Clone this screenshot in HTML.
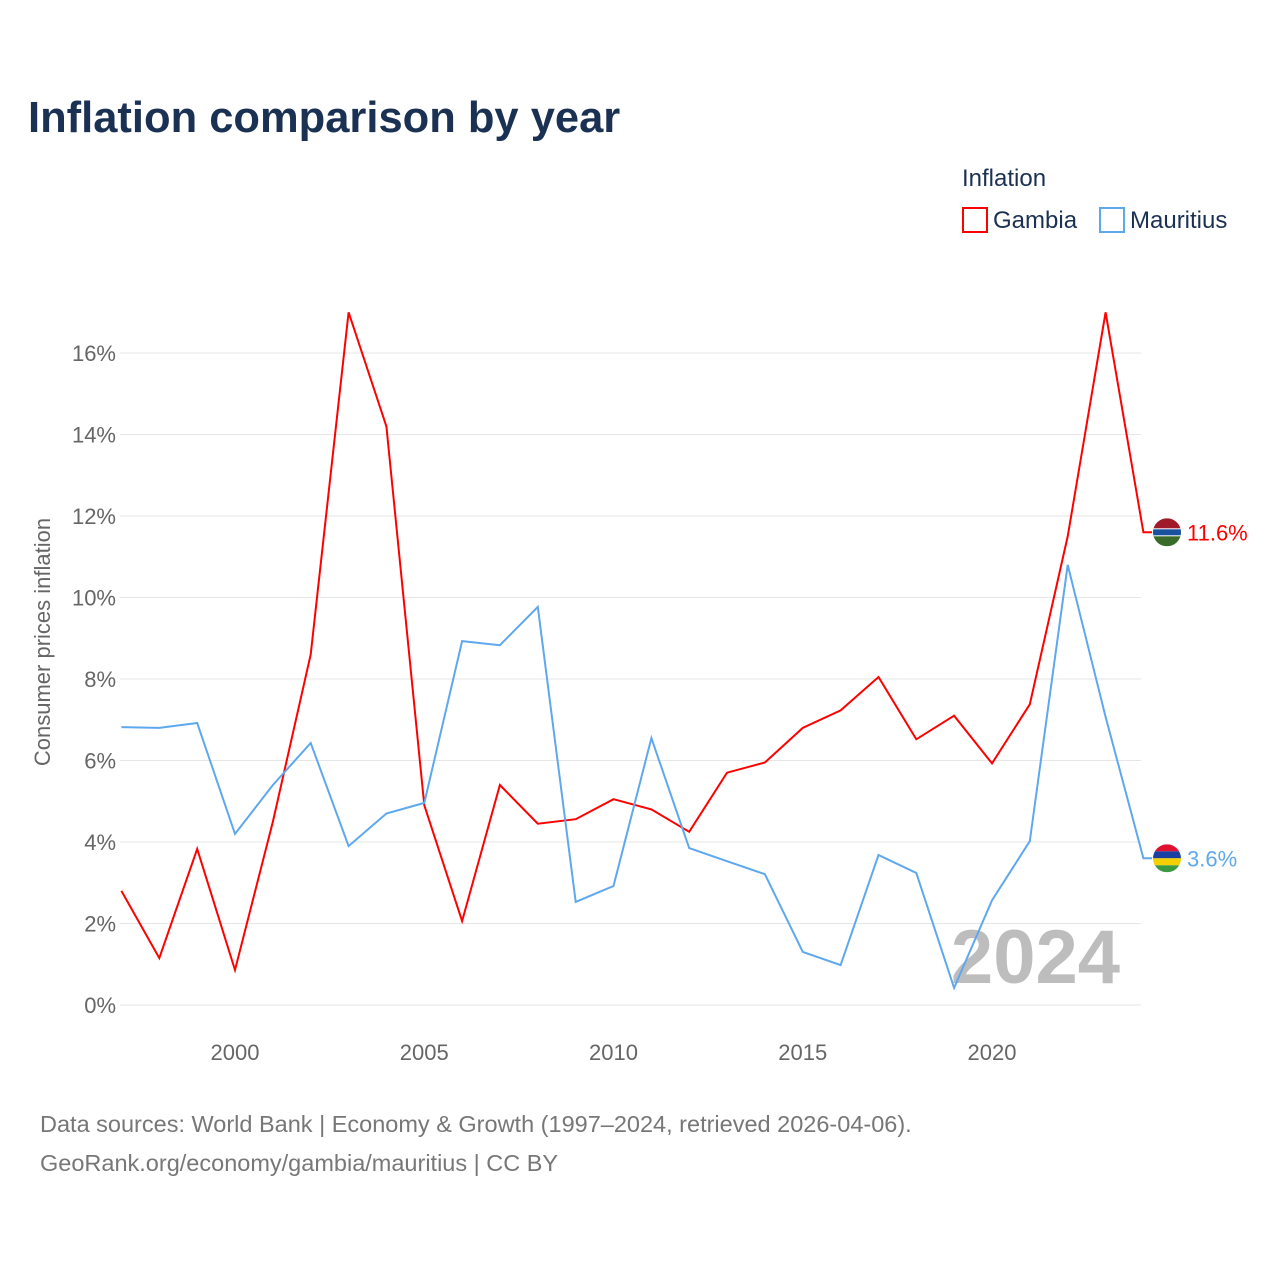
<!DOCTYPE html>
<html><head><meta charset="utf-8"><style>
body{margin:0;background:#fff;font-family:"Liberation Sans",sans-serif}
svg text{font-family:"Liberation Sans",sans-serif}
</style></head><body>
<svg width="1280" height="1280">
<defs>
<clipPath id="cg"><circle cx="1167" cy="0" r="14"/></clipPath>
</defs>
<text x="28" y="132" font-size="43.5" font-weight="bold" fill="#1b3153">Inflation comparison by year</text>
<text x="962" y="186" font-size="24" fill="#1b3153">Inflation</text>
<g><rect x="963" y="208" width="24" height="24" fill="none" stroke="#ff0000" stroke-width="2"/><text x="993" y="228" font-size="24" fill="#1b3153">Gambia</text></g>
<g><rect x="1100" y="208" width="24" height="24" fill="none" stroke="#5ea8ee" stroke-width="2"/><text x="1130" y="228" font-size="24" fill="#1b3153">Mauritius</text></g>
<text transform="translate(50,642) rotate(-90)" text-anchor="middle" font-size="22" fill="#666">Consumer prices inflation</text>
<g id="grid"></g><g id="yt"></g><g id="xt"></g>
<text x="1120" y="983" text-anchor="end" font-size="76" font-weight="bold" fill="#bdbdbd">2024</text>
<g id="lines"></g><g id="ends"></g>
<text x="40" y="1132" font-size="23.5" fill="#777">Data sources: World Bank | Economy &amp; Growth (1997–2024, retrieved 2026-04-06).</text>
<text x="40" y="1171" font-size="23.5" fill="#777">GeoRank.org/economy/gambia/mauritius | CC BY</text>
</svg>
<script>
const years=[1997,1998,1999,2000,2001,2002,2003,2004,2005,2006,2007,2008,2009,2010,2011,2012,2013,2014,2015,2016,2017,2018,2019,2020,2021,2022,2023,2024];
const gambia=[2.8,1.15,3.83,0.86,4.5,8.6,17.0,14.2,4.9,2.06,5.4,4.45,4.56,5.05,4.8,4.25,5.7,5.95,6.8,7.23,8.05,6.52,7.1,5.93,7.38,11.5,17.0,11.6];
const mauritius=[6.82,6.8,6.92,4.2,5.4,6.43,3.9,4.7,4.96,8.93,8.83,9.77,2.53,2.92,6.55,3.85,3.53,3.21,1.3,0.98,3.68,3.24,0.42,2.57,4.02,10.8,7.07,3.6];
const yTicks=[0,2,4,6,8,10,12,14,16];
const xTicks=[2000,2005,2010,2015,2020];
const NS="http://www.w3.org/2000/svg";
const X=y=>235+(y-2000)*37.85, Y=v=>1005-v*40.75;
function mk(t,a,p){const e=document.createElementNS(NS,t);for(const k in a)e.setAttribute(k,a[k]);p.appendChild(e);return e;}
const g=document.getElementById('grid'),yt=document.getElementById('yt'),xt=document.getElementById('xt');
yTicks.forEach(v=>{const l=mk('line',{x1:120,x2:1141,y1:Y(v),y2:Y(v),stroke:'#e6e6e6','stroke-width':1},g);


const t=mk('text',{x:116,y:Y(v)+8,'text-anchor':'end','font-size':22,fill:'#666'},yt);t.textContent=v+'%';

});
xTicks.forEach(v=>{const t=mk('text',{x:X(v),y:1060,'text-anchor':'middle','font-size':22,fill:'#666'},xt);t.textContent=v;

});
const L=document.getElementById('lines'),E=document.getElementById('ends');
[[gambia,'#ff0000','gambia'],[mauritius,'#5ea8ee','mauritius']].forEach(([d,c,n])=>{
let p=d.map((v,i)=>(i?'L':'M')+X(years[i]).toFixed(1)+','+Y(v).toFixed(1)).join(' ');
const last=d[d.length-1];p+=' L1152,'+Y(last).toFixed(1);
const pa=mk('path',{d:p,fill:'none',stroke:c,'stroke-width':2},L);


const cy=Y(last);
const outer=mk('g',{transform:`translate(0,${cy})`},E);


const cl=mk('g',{'clip-path':'url(#cg)'},outer);
if(n==='gambia'){mk('rect',{x:1153,y:-14,width:28,height:14,fill:'#a01a2a'},cl);mk('rect',{x:1153,y:0,width:28,height:14,fill:'#3a6b2a'},cl);mk('rect',{x:1153,y:-4,width:28,height:8,fill:'#fff'},cl);mk('rect',{x:1153,y:-3,width:28,height:6,fill:'#1a50a0'},cl);}
else{mk('rect',{x:1153,y:-14,width:28,height:7,fill:'#e01030'},cl);mk('rect',{x:1153,y:-7,width:28,height:7,fill:'#1a3fa0'},cl);mk('rect',{x:1153,y:0,width:28,height:7,fill:'#f5d000'},cl);mk('rect',{x:1153,y:7,width:28,height:7,fill:'#3a9a40'},cl);}
const t=mk('text',{x:1187,y:cy+8,'font-size':22,fill:c},E);t.textContent=last.toFixed(1)+'%';

});
</script>
</body></html>
